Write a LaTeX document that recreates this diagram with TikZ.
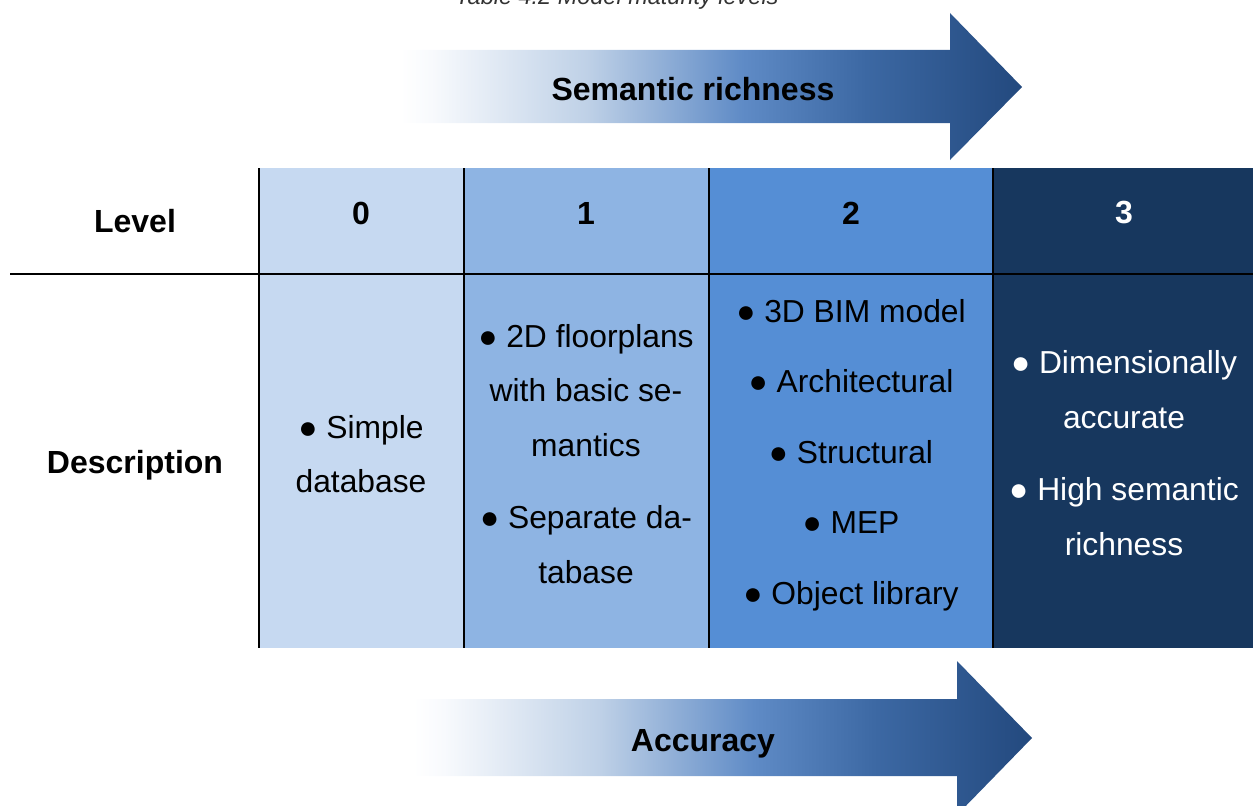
\documentclass[tikz,border=0pt]{standalone}
\usepackage{fontspec}
\setmainfont{Liberation Sans}
\definecolor{c0}{HTML}{C6D9F1}
\definecolor{c1}{HTML}{8EB4E3}
\definecolor{c2}{HTML}{558ED5}
\definecolor{c3}{HTML}{17375E}
\definecolor{s1}{HTML}{F8FAFD}
\definecolor{s2}{HTML}{BFD1E7}
\definecolor{s3}{HTML}{5F8BC6}
\definecolor{s4}{HTML}{3C68A3}
\definecolor{s5}{HTML}{23497E}
\pgfdeclarehorizontalshading{arrowshade}{100bp}{color(0bp)=(white); color(25bp)=(white); color(27.5bp)=(s1); color(40bp)=(s2); color(52.5bp)=(s3); color(62.5bp)=(s4); color(75bp)=(s5); color(100bp)=(s5)}
\tikzset{
  hdr/.style={font=\bfseries\fontsize{32bp}{38bp}\selectfont, text=black},
  body/.style={font=\fontsize{31.8bp}{54.5bp}\selectfont, align=center, text=black},
  rule/.style={line width=2bp, draw=black},
  bigarrow/.style={shading=arrowshade, draw=none},
}
\begin{document}
\begin{tikzpicture}[x=1bp,y=1bp]
\useasboundingbox (0,0) rectangle (1253,-806);
\begin{scope}
\clip (0,0) rectangle (1253,-806);
% caption (cut at top, as in the reference)
\node[font=\itshape\fontsize{23.5bp}{28bp}\selectfont, text=black!80, anchor=base] (cap) at (617,-5) {Table 4.2 Model maturity levels};
% top arrow
\path[bigarrow] (400,-50) -- (950,-50) -- (950,-13) -- (1022,-87) -- (950,-160) -- (950,-123) -- (400,-123) -- cycle;
\node[hdr] (sem) at (693,-89) {Semantic richness};
% bottom arrow
\path[bigarrow] (413,-699) -- (957,-699) -- (957,-661) -- (1032,-738) -- (957,-815) -- (957,-776) -- (413,-776) -- cycle;
\node[hdr] (acc) at (703,-744) {Accuracy};
\end{scope}
% column fills
\fill[c0] (259,-168) rectangle (464,-648);
\fill[c1] (464,-168) rectangle (709,-648);
\fill[c2] (709,-168) rectangle (993,-648);
\fill[c3] (993,-168) rectangle (1253,-648);
% rules
\draw[rule] (10,-274) -- (1253,-274);
\foreach \x in {259,464,709,993} \draw[rule] (\x,-168) -- (\x,-648);
% header row
\node[hdr] (lvl) at (135,-221) {Level};
\node[hdr] (h0) at (361,-213) {0};
\node[hdr] (h1) at (586,-213) {1};
\node[hdr] (h2) at (851,-213) {2};
\node[hdr, text=white] (h3) at (1124,-213) {3};
% description row
\node[hdr] (desc) at (135,-465) {Description};
\node[body] (d0) at (361,-454) {● Simple\\database};
\node[body] (d1) at (586,-454) {● 2D floorplans\\with basic se-\\mantics\\[18bp]● Separate da-\\tabase};
\node[body] (d2) at (851,-455) {● 3D BIM model\\[16bp]● Architectural\\[16bp]● Structural\\[16bp]● MEP\\[16bp]● Object library};
\node[body, text=white] (d3) at (1124,-453) {● Dimensionally\\accurate\\[18bp]● High semantic\\richness};
\end{tikzpicture}
\end{document}
